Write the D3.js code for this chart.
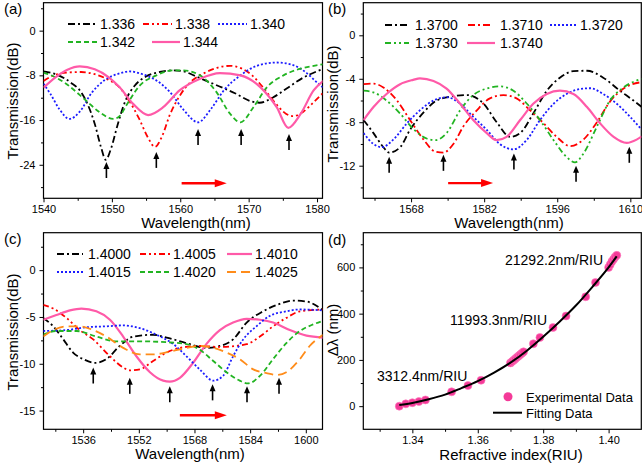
<!DOCTYPE html>
<html><head><meta charset="utf-8">
<script src="https://cdn.jsdelivr.net/npm/d3@7"></script>
<style>body{margin:0;background:#fff}svg{display:block}text{font-family:Arial,"Liberation Sans",sans-serif}</style>
</head><body><svg id="c" width="642" height="469"></svg>
<script>
// ---------- Panel (a) data ----------
const aLabels = ["1.336","1.338","1.340","1.342","1.344"];
const a1336 = [[1540,-7.3],[1542,-7.9],[1544,-9.3],[1545.5,-11.0],[1546.5,-13.3],[1547.5,-16.7],[1548.4,-20.8],[1549.1,-23.1],[1549.9,-21.0],[1550.8,-17.0],[1552,-12.5],[1553.3,-9.9],[1555,-8.2],[1557,-7.4],[1559,-7.1],[1560.5,-7.3],[1562.5,-8.3],[1565,-9.6],[1568,-11.2],[1570.5,-12.7],[1571.6,-12.9],[1573.5,-12.0],[1575.5,-10.4],[1578,-8.4],[1581,-6.8]];
const a1338 = [[1540,-9.0],[1541.5,-8.0],[1543.5,-7.5],[1545.5,-7.4],[1547.5,-7.8],[1549.5,-8.8],[1551,-10.0],[1552.5,-12.5],[1554,-15.8],[1555.3,-19.2],[1556.3,-20.8],[1557.3,-19.0],[1558.5,-15.0],[1560,-11.5],[1561.5,-9.2],[1563.5,-7.6],[1565.5,-6.6],[1567.3,-6.3],[1569,-6.8],[1570.5,-8.0],[1572,-10.0],[1573.8,-12.8],[1575.5,-14.9],[1576.5,-15.3],[1578,-14.5],[1579.5,-12.8],[1581,-11.0]];
const a1340 = [[1540,-9.5],[1541,-11.3],[1542.3,-14.0],[1543.8,-15.8],[1545.3,-14.5],[1547,-11.2],[1549,-8.8],[1551,-7.7],[1552.6,-7.3],[1554.5,-7.8],[1556.5,-8.9],[1558.5,-11.0],[1560.5,-14.2],[1562.6,-16.4],[1564.5,-14.0],[1566.5,-10.5],[1568.8,-8.0],[1571.2,-6.3],[1574.1,-5.7],[1576.6,-6.2],[1578.5,-7.6],[1580.2,-9.5],[1581,-10.3]];
const a1342 = [[1540,-7.5],[1541.5,-8.2],[1543.3,-9.5],[1546.2,-12.5],[1548.2,-14.6],[1550.2,-15.8],[1551.2,-15.2],[1552.1,-13.4],[1554.1,-9.8],[1556.5,-8.0],[1559,-7.1],[1560.4,-7.1],[1562.9,-8.0],[1565.3,-11.0],[1567.3,-14.9],[1568.8,-16.4],[1570.7,-13.7],[1572.7,-10.1],[1575.1,-8.0],[1577.6,-6.8],[1580.5,-6.1],[1581,-6.0]];
const a1344 = [[1540,-10.2],[1541.8,-8.3],[1543.5,-7.0],[1545.3,-6.4],[1547.5,-6.9],[1549.5,-8.3],[1551.1,-10.1],[1553.1,-13.1],[1555.3,-15.1],[1557.5,-13.7],[1559.9,-10.7],[1562.9,-8.6],[1565.8,-7.6],[1568.8,-8.0],[1571.7,-10.1],[1574.1,-13.7],[1575.8,-17.4],[1577.6,-14.9],[1579.5,-10.7],[1581,-8.9]];
const aArrows = [[1549.2,-23.5],[1556.5,-21.7],[1562.6,-17.6],[1568.9,-17.6],[1575.9,-18.5]];
const aXTicks = [1540,1550,1560,1570,1580];
const aYTicks = [0,-8,-16,-24];

// ---------- Panel (b) data ----------
const bLabels = ["1.3700","1.3710","1.3720","1.3730","1.3740"];
const b3700 = [[1558.9,-7.8],[1560.8,-9.0],[1562.7,-10.3],[1563.8,-10.8],[1565.9,-10.3],[1567.8,-8.7],[1570.4,-7.1],[1572.9,-6.0],[1576.1,-5.6],[1578.7,-5.5],[1581.9,-6.3],[1584.4,-8.0],[1587.0,-9.35],[1588.9,-9.0],[1591.4,-7.2],[1594.0,-5.1],[1596.5,-3.9],[1599.1,-3.3],[1601.7,-3.26],[1604.8,-3.9],[1608.0,-5.1],[1610.6,-6.0],[1612.2,-6.6]];
const b3710 = [[1558.9,-4.5],[1560.8,-4.45],[1562.7,-4.8],[1565.3,-6.0],[1567.8,-7.8],[1570.4,-9.6],[1572.6,-10.7],[1574.2,-10.8],[1576.1,-10.0],[1578.0,-8.4],[1580.6,-6.9],[1583.1,-5.8],[1585.7,-5.5],[1588.2,-5.8],[1590.8,-6.9],[1593.4,-8.1],[1595.9,-9.35],[1598.5,-10.2],[1601.0,-9.6],[1603.6,-8.0],[1606.1,-6.1],[1608.7,-4.9],[1612.2,-4.3]];
const b3720 = [[1558.9,-9.0],[1560.8,-10.0],[1562.4,-10.3],[1564.6,-9.6],[1567.2,-8.1],[1569.7,-6.9],[1572.3,-6.0],[1574.8,-5.7],[1577.4,-6.3],[1579.9,-7.5],[1582.5,-8.7],[1585.0,-10.0],[1587.6,-10.5],[1590.2,-9.6],[1592.7,-7.8],[1595.3,-6.3],[1597.8,-5.4],[1601.0,-4.9],[1602.3,-4.87],[1604.8,-5.4],[1607.4,-6.3],[1609.95,-7.5],[1612.2,-8.7]];
const b3730 = [[1558.9,-5.1],[1560.8,-5.25],[1563.3,-6.0],[1565.9,-7.2],[1568.4,-8.6],[1571.0,-9.5],[1572.6,-9.65],[1574.8,-9.0],[1577.4,-6.9],[1579.9,-5.5],[1582.5,-4.9],[1585.0,-4.7],[1587.6,-5.1],[1590.2,-6.3],[1592.7,-7.8],[1595.3,-9.65],[1597.8,-11.2],[1599.4,-11.7],[1601.0,-10.9],[1603.6,-8.4],[1606.1,-6.0],[1608.7,-4.8],[1612.2,-4.0]];
const b3740 = [[1558.9,-7.8],[1560.8,-6.6],[1563.3,-5.4],[1565.9,-4.5],[1568.4,-4.1],[1569.7,-3.96],[1572.3,-4.2],[1574.8,-4.9],[1577.4,-6.3],[1579.9,-7.8],[1582.5,-9.0],[1584.4,-9.65],[1586.3,-9.35],[1588.9,-7.8],[1591.4,-6.3],[1594.0,-5.4],[1596.5,-5.1],[1599.1,-5.4],[1601.7,-6.6],[1604.2,-8.1],[1606.8,-9.35],[1609.3,-9.9],[1611.2,-9.6],[1612.2,-9.3]];
const bArrows = [[1563.8,-11.17],[1574.2,-11.0],[1587.7,-10.87],[1599.6,-12.0],[1609.8,-10.26]];
const bXTicks = [1568,1582,1596,1610];
const bYTicks = [0,-4,-8,-12];

// ---------- Panel (c) data ----------
const cLabels = ["1.4000","1.4005","1.4010","1.4015","1.4020","1.4025"];
const c4000 = [[1524.5,-5.1],[1527.4,-6.0],[1530.3,-7.4],[1533.1,-8.8],[1536,-9.5],[1539.4,-9.9],[1542.7,-9.5],[1546.5,-8.1],[1550.4,-7.1],[1556.1,-6.9],[1560,-7.2],[1565.7,-7.8],[1571.4,-8.3],[1575.3,-8.1],[1579.1,-7.4],[1583,-5.6],[1587.7,-4.4],[1592.5,-3.6],[1596.3,-3.25],[1600.2,-3.35],[1605,-4.3]];
const c4005 = [[1524.5,-3.7],[1527.4,-4.1],[1531.2,-5.1],[1535,-6.4],[1538.9,-7.4],[1543.7,-9.2],[1547.5,-10.4],[1549.4,-10.7],[1552.3,-10.6],[1556.1,-9.7],[1560,-8.8],[1563.8,-8.3],[1569.5,-8.1],[1575.3,-8.2],[1583,-7.9],[1586.8,-7.1],[1590.6,-6.0],[1594.4,-5.1],[1598.3,-4.4],[1605,-4.2]];
const c4010 = [[1524.5,-5.3],[1528.3,-4.8],[1532.2,-4.3],[1535.5,-4.1],[1539.8,-4.4],[1543.7,-5.3],[1547.5,-7.1],[1551.3,-9.2],[1555.2,-10.9],[1559,-11.8],[1560.9,-11.9],[1563.8,-11.5],[1567.6,-9.9],[1571.4,-7.9],[1575.3,-6.4],[1579.1,-5.6],[1583,-5.2],[1586.8,-5.3],[1590.6,-5.6],[1595.4,-6.4],[1600.2,-7.0],[1605,-7.2]];
const c4015 = [[1524.5,-6.5],[1531.2,-6.4],[1537,-6.1],[1542.7,-6.0],[1547.5,-5.9],[1552.3,-6.2],[1557.1,-6.9],[1561.9,-7.9],[1565.7,-9.2],[1569.5,-10.6],[1573.4,-11.8],[1576.2,-11.3],[1579.1,-9.2],[1582,-7.4],[1585.8,-6.0],[1589.6,-4.9],[1594.4,-4.4],[1598.3,-4.2],[1605,-4.3]];
const c4020 = [[1524.5,-6.9],[1528.3,-6.5],[1534.1,-6.5],[1539.8,-7.1],[1545.6,-7.6],[1552.3,-7.6],[1560,-7.7],[1565.7,-7.9],[1569.5,-8.5],[1573.4,-9.7],[1577.2,-10.9],[1581,-11.8],[1583.4,-12.1],[1586.8,-11.3],[1590.6,-9.5],[1594.4,-7.8],[1598.3,-6.5],[1602.1,-5.8],[1605,-5.4]];
const c4025 = [[1524.5,-7.1],[1527.4,-6.4],[1531.2,-6.0],[1535,-6.0],[1538.9,-6.4],[1542.7,-7.1],[1547.5,-8.3],[1552.3,-9.0],[1556.1,-9.0],[1560.9,-8.7],[1565.7,-8.3],[1569.5,-8.1],[1573.4,-8.3],[1577.2,-8.8],[1581,-9.5],[1584.9,-10.6],[1588.7,-11.0],[1591.6,-11.2],[1594.4,-10.9],[1598.3,-9.5],[1601.1,-8.1],[1605,-6.9]];
const cArrows = [[1538.9,-10.4],[1549.4,-11.5],[1560.9,-12.4],[1573.2,-12.2],[1583.1,-12.4],[1592.3,-11.5]];
const cXTicks = [1536,1552,1568,1584,1600];
const cYTicks = [0,-5,-10,-15];

// ---------- Panel (d) data ----------
const dExpRI = [1.336,1.338,1.340,1.342,1.344,1.352,1.357,1.361,1.3700,1.3705,1.3710,1.3715,1.3720,1.3725,1.3730,1.3735,1.3740,1.377,1.379,1.383,1.387,1.393,1.396,1.4000,1.4005,1.4010,1.4015,1.4020,1.4025];
const dExpShift = [0,10,15,20,27,62,89,112,187,193,199,205,211,217,223,229,235,270,297,340,390,473,535,600,612,625,635,645,652];
const dFitRI = [1.336,1.340,1.345,1.350,1.355,1.360,1.365,1.370,1.375,1.380,1.385,1.390,1.395,1.400,1.4025];
const dFitShift = [5,14,30,50,78,108,145,188,240,300,365,435,515,600,648];
const dXTicks = [1.34,1.36,1.38,1.40];
const dYTicks = [0,200,400,600];
const dNotes = ["21292.2nm/RIU","11993.3nm/RIU","3312.4nm/RIU"];
const dLegend = ["Experimental Data","Fitting Data"];

// ---------- drawing ----------
const svg = d3.select("#c");
svg.append("rect").attr("width",642).attr("height",469).attr("fill","#fff");
const FONT = 'Arial, "Liberation Sans", sans-serif';
const C = {black:"#000",red:"#ff0000",blue:"#1c1cff",green:"#22b422",pink:"#ff5aa8",orange:"#ff8c1a"};
const plain = d => String(d);

function panel(o){
  const x = d3.scaleLinear().domain(o.xd).range([o.x0,o.x1]);
  const y = d3.scaleLinear().domain(o.yd).range([o.y1,o.y0]);
  const g = svg.append("g");
  const id = "clip"+o.tag;
  svg.append("clipPath").attr("id",id).append("rect")
    .attr("x",o.x0).attr("y",o.y0).attr("width",o.x1-o.x0).attr("height",o.y1-o.y0);
  const style = s => s.attr("font-size",11).attr("font-family",FONT)
     .call(a=>a.select(".domain").remove()).call(a=>a.selectAll("line").attr("stroke","#000").attr("stroke-width",1));
  g.append("g").attr("transform",`translate(0,${o.y1})`)
    .call(d3.axisBottom(x).tickValues(o.xt).tickFormat(o.xf).tickSize(4).tickPadding(3)).call(style);
  g.append("g").attr("transform",`translate(0,${o.y1})`)
    .call(d3.axisBottom(x).tickValues(o.xm).tickFormat("").tickSize(2.5)).call(style);
  g.append("g").attr("transform",`translate(${o.x0},0)`)
    .call(d3.axisLeft(y).tickValues(o.yt).tickFormat(o.yf).tickSize(4).tickPadding(4)).call(style);
  g.append("g").attr("transform",`translate(${o.x0},0)`)
    .call(d3.axisLeft(y).tickValues(o.ym).tickFormat("").tickSize(2.5)).call(style);
  g.append("rect").attr("x",o.x0).attr("y",o.y0).attr("width",o.x1-o.x0).attr("height",o.y1-o.y0)
    .attr("fill","none").attr("stroke","#000").attr("stroke-width",1.2);
  g.append("text").attr("x",o.xtx).attr("y",o.xty).attr("text-anchor","middle").attr("font-size",15).text(o.xtitle);
  g.append("text").attr("transform",`translate(${o.ytx},${o.yty}) rotate(-90)`).attr("dy","0.35em")
    .attr("text-anchor","middle").attr("font-size",15).text(o.ytitle);
  g.append("text").attr("x",o.lx).attr("y",o.ly).attr("font-size",15).text(o.label);
  const plot = g.append("g").attr("clip-path",`url(#${id})`);
  return {x,y,g,plot};
}

function curves(p, series, styles){
  const line = d3.line().x(d=>p.x(d[0])).y(d=>p.y(d[1])).curve(d3.curveMonotoneX);
  series.forEach((s,i)=>{
    p.plot.append("path").datum(s).attr("d",line).attr("fill","none")
      .attr("stroke",styles[i].c).attr("stroke-width",styles[i].w||1.8)
      .attr("stroke-dasharray",styles[i].d||null);
  });
}
function legend(p, labels, styles, pos){
  labels.forEach((t,i)=>{
    const [x1,yy,len,tx]=pos[i];
    p.g.append("line").attr("x1",x1).attr("x2",x1+len).attr("y1",yy).attr("y2",yy)
      .attr("stroke",styles[i].c).attr("stroke-width",styles[i].w||1.8).attr("stroke-dasharray",styles[i].d||null);
    p.g.append("text").attr("x",tx).attr("y",yy+5).attr("font-size",14).text(t);
  });
}
function upArrows(p, arr){
  arr.forEach(([wl,v])=>{
    const X=p.x(wl), Y=p.y(v);
    p.g.append("line").attr("x1",X).attr("x2",X).attr("y1",Y+5).attr("y2",Y+16).attr("stroke","#000").attr("stroke-width",1.6);
    p.g.append("path").attr("d",`M${X},${Y}L${X-3},${Y+7}L${X+3},${Y+7}Z`).attr("fill","#000");
  });
}
function redArrow(p, w1, w2, v){
  const X1=p.x(w1), X2=p.x(w2), Y=p.y(v);
  p.g.append("line").attr("x1",X1).attr("x2",X2-10).attr("y1",Y).attr("y2",Y).attr("stroke",C.red).attr("stroke-width",2.4);
  p.g.append("path").attr("d",`M${X2},${Y}L${X2-12},${Y-4}L${X2-12},${Y+4}Z`).attr("fill",C.red);
}

const DASHDOT="7,3,2,3", DASHDOTDOT="6,3,2,3,2,3", DOT="2,2", DASH="5,3", LONGDASH="9,5";

// Panel (a)
const pa = panel({tag:"a",xd:[1540,1580.8],yd:[-30,5],x0:43.5,x1:322.5,y0:2.7,y1:198.3,
  xt:aXTicks,xm:[1545,1555,1565,1575],yt:aYTicks,ym:[4,-4,-12,-20,-28],xf:plain,yf:plain,
  xtitle:"Wavelength(nm)",xtx:196,xty:228,ytitle:"Transmission(dB)",ytx:13,yty:101,label:"(a)",lx:4,ly:14});
const aStyles=[{c:C.black,d:DASHDOT},{c:C.red,d:DASHDOTDOT},{c:C.blue,d:DOT},{c:C.green,d:DASH},{c:C.pink,w:2.2}];
curves(pa,[a1336,a1338,a1340,a1342,a1344],aStyles);
legend(pa,aLabels,aStyles,[[68,24,29,100],[143,24,29,175],[218,24,29,250],[68,42,29,100],[152,42,28,183]]);
upArrows(pa,aArrows);
redArrow(pa,1560.2,1566.8,-27.3);

// Panel (b)
const pb = panel({tag:"b",xd:[1558.85,1612.1],yd:[-15,3],x0:363.3,x1:641.3,y0:2.7,y1:198.3,
  xt:bXTicks,xm:[1561,1575,1589,1603],yt:bYTicks,ym:[2,-2,-6,-10,-14],xf:plain,yf:plain,
  xtitle:"Wavelength(nm)",xtx:509,xty:228,ytitle:"Transmission(dB)",ytx:333,yty:104,label:"(b)",lx:328,ly:14});
const bStyles=[{c:C.black,d:DASHDOT},{c:C.red,d:DASHDOT},{c:C.blue,d:DOT},{c:C.green,d:DASHDOTDOT},{c:C.pink,w:2.2}];
curves(pb,[b3700,b3710,b3720,b3730,b3740],bStyles);
legend(pb,bLabels,bStyles,[[385,25,24,415],[468,25,24,500],[550,25,27,580],[385,43,24,415],[467,43,28,500]]);
upArrows(pb,bArrows);
redArrow(pb,1575.1,1583.7,-13.6);

// Panel (c)
const pc = panel({tag:"c",xd:[1524.6,1604.8],yd:[-17,4],x0:43.5,x1:322.5,y0:232.7,y1:429.3,
  xt:cXTicks,xm:[1528,1544,1560,1576,1592],yt:cYTicks,ym:[2.5,-2.5,-7.5,-12.5],xf:plain,yf:plain,
  xtitle:"Wavelength(nm)",xtx:190,xty:459,ytitle:"Transmission(dB)",ytx:13,yty:332,label:"(c)",lx:4,ly:244});
const cStyles=[{c:C.black,d:DASHDOT},{c:C.red,d:DASHDOTDOT},{c:C.pink,w:2.2},{c:C.blue,d:DOT},{c:C.green,d:DASH},{c:C.orange,d:LONGDASH}];
curves(pc,[c4000,c4005,c4010,c4015,c4020,c4025],cStyles);
legend(pc,cLabels,cStyles,[[57,254,26,88],[140,254,30,173],[227,254,25,255],[57,272,26,88],[140,272,30,173],[227,272,25,255]]);
upArrows(pc,cArrows);
redArrow(pc,1563.8,1577.3,-15.5);

// Panel (d)
const pd = panel({tag:"d",xd:[1.325,1.41],yd:[-100,750],x0:363.3,x1:641.3,y0:232.7,y1:429.3,
  xt:dXTicks,xm:[1.33,1.35,1.37,1.39],yt:dYTicks,ym:[100,300,500,700],xf:d3.format(".2f"),yf:plain,
  xtitle:"Refractive index(RIU)",xtx:511,xty:460,ytitle:"\u0394\u03bb (nm)",ytx:333,yty:330,label:"(d)",lx:328,ly:245});
const dPts = dExpRI.map((r,i)=>[r,dExpShift[i]]);
const fitPts = dFitRI.map((r,i)=>[r,dFitShift[i]]);
pd.plot.selectAll("circle").data(dPts).join("circle")
  .attr("cx",d=>pd.x(d[0])).attr("cy",d=>pd.y(d[1])).attr("r",4).attr("fill","#f43a98").attr("stroke","#ff7cc0").attr("stroke-width",0.6);
pd.plot.append("path").datum(fitPts).attr("fill","none").attr("stroke","#000").attr("stroke-width",2)
  .attr("d",d3.line().x(d=>pd.x(d[0])).y(d=>pd.y(d[1])).curve(d3.curveMonotoneX));
const notePos=[[505,265],[450,325],[377,381]];
dNotes.forEach((t,i)=>pd.g.append("text").attr("x",notePos[i][0]).attr("y",notePos[i][1]).attr("font-size",14).text(t));
pd.g.append("circle").attr("cx",508).attr("cy",396.7).attr("r",4.5).attr("fill","#f43a98");
pd.g.append("text").attr("x",526).attr("y",401.5).attr("font-size",13).text(dLegend[0]);
pd.g.append("line").attr("x1",493).attr("x2",522).attr("y1",412.7).attr("y2",412.7).attr("stroke","#000").attr("stroke-width",2);
pd.g.append("text").attr("x",526).attr("y",417.5).attr("font-size",13).text(dLegend[1]);
</script></body></html>
